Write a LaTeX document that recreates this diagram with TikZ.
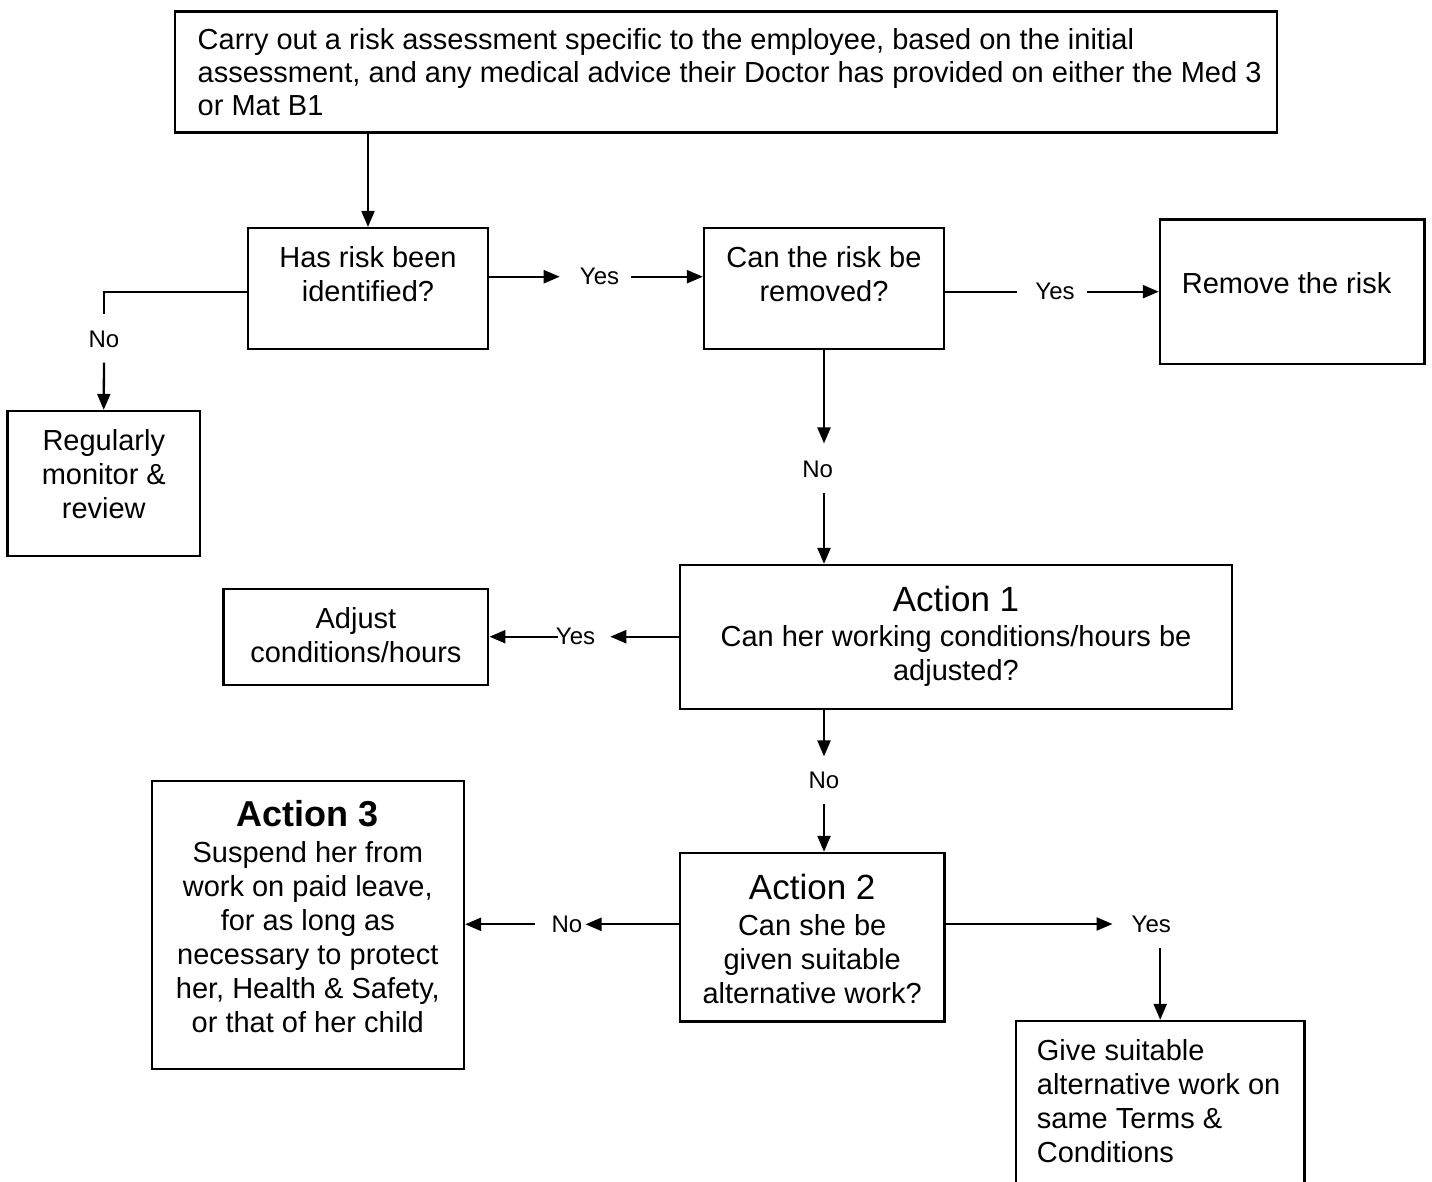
\documentclass[tikz,border=0pt]{standalone}
\usepackage{fontspec}
\setmainfont{Liberation Sans}
\usetikzlibrary{arrows.meta}
\newcommand\fbody{\fontsize{29}{34}\selectfont}
\newcommand\ftopbody{\fontsize{29}{33}\selectfont}
\newcommand\flab{\fontsize{24}{28}\selectfont}
\newcommand\ftitle{\fontsize{35}{40}\selectfont}
\newcommand\ftitleb{\fontsize{36}{40}\selectfont\bfseries}
\begin{document}
\begin{tikzpicture}[x=1pt,y=-1pt,
  box/.style={draw, line width=2.3pt, inner sep=0pt},
  txt/.style={inner sep=0pt, align=center, font=\fbody},
  lab/.style={inner sep=0pt, font=\flab},
  ln/.style={line width=2.3pt},
  arr/.style={line width=2.3pt, -{Triangle[length=16pt,width=13pt]}}]
\useasboundingbox (0,0) rectangle (1432,1182);
\fill[white] (0,0) rectangle (1432,1182);

% boxes
\node[box, minimum width=1102pt, minimum height=121pt] (top) at (726,72) {};
\node[box, minimum width=240pt, minimum height=121pt] (b2) at (368,288.6) {};
\node[box, minimum width=240pt, minimum height=121pt] (b3) at (824,288.5) {};
\node[box, minimum width=264.5pt, minimum height=144.5pt] (rem) at (1292.2,291.7) {};
\node[box, minimum width=192.5pt, minimum height=145pt] (reg) at (103.7,483.5) {};
\node[box, minimum width=264.8pt, minimum height=96pt] (adj) at (355.9,637) {};
\node[box, minimum width=552pt, minimum height=144pt] (a1) at (956,637) {};
\node[box, minimum width=264.5pt, minimum height=168.5pt] (a2) at (812.2,937.2) {};
\node[box, minimum width=312.3pt, minimum height=288pt] (a3) at (307.8,925) {};
\node[box, minimum width=288.3pt, minimum height=176pt] (give) at (1160.2,1109) {};

% texts
\node[txt, align=left, anchor=north west, font=\ftopbody] (ttop) at (197.5,28.6)
  {Carry out a risk assessment specific to the employee, based on the initial\\
   assessment, and any medical advice their Doctor has provided on either the Med 3\\
   or Mat B1};
\node[txt, anchor=north] (tb2) at (368,246.3) {Has risk been\\identified?};
\node[txt, anchor=north] (tb3) at (824,246.3) {Can the risk be\\removed?};
\node[txt, anchor=north] (trem) at (1286.6,272.6) {Remove the risk};
\node[txt, anchor=north] (treg) at (103.8,429.6) {Regularly\\monitor \&\\review};
\node[txt, anchor=north] (tadj) at (355.9,607.6) {Adjust\\conditions/hours};
\node[txt, anchor=north, font=\ftitle] (ta1h) at (956,585.5) {Action 1};
\node[txt, anchor=north] (ta1) at (956,625.6) {Can her working conditions/hours be\\adjusted?};
\node[txt, anchor=north, font=\ftitle] (ta2h) at (812.2,873.5) {Action 2};
\node[txt, anchor=north] (ta2) at (812.2,913.9) {Can she be\\given suitable\\alternative work?};
\node[txt, anchor=north, font=\ftitleb] (ta3h) at (307.8,800) {Action 3};
\node[txt, anchor=north] (ta3) at (307.8,841.3)
  {Suspend her from\\work on paid leave,\\for as long as\\necessary to protect\\her, Health \& Safety,\\or that of her child};
\node[txt, align=left, anchor=north west] (tgive) at (1036.7,1038.9)
  {Give suitable\\alternative work on\\same Terms \&\\Conditions};

% labels
\node[lab] (yes1) at (599.5,276.7) {Yes};
\node[lab] (yes2) at (1055,291.7) {Yes};
\node[lab] (no1) at (104,339) {No};
\node[lab] (no2) at (817.6,469) {No};
\node[lab] (yes3) at (575.5,636.7) {Yes};
\node[lab] (no3) at (824,780) {No};
\node[lab] (no4) at (567,924.3) {No};
\node[lab] (yes4) at (1151.3,924) {Yes};

% helper coordinates
\coordinate (c1) at (104,291.7);
\coordinate (n1t) at ([yshift=16pt]no1.north);
\coordinate (n2t) at ([yshift=17pt]no2.north);
\coordinate (n2b) at ([yshift=-15pt]no2.south);
\coordinate (n3t) at ([yshift=15pt]no3.north);
\coordinate (n3b) at ([yshift=-15pt]no3.south);
\coordinate (y4b) at ([yshift=-15.7pt]yes4.south);

% connectors
\draw[arr] (b2.north |- top.south) -- (b2.north);
\draw[arr] (b2.east |- yes1) -- ([xshift=-20pt]yes1.west);
\draw[arr] ([xshift=11.5pt]yes1.east) -- (b3.west |- yes1);
\draw[ln] (b3.east |- yes2) -- ([xshift=-18pt]yes2.west);
\draw[arr] ([xshift=12pt]yes2.east) -- (rem.west |- yes2);
\draw[ln] (b2.west |- c1) -- (c1) -- (c1 |- n1t);
\draw[arr] ([yshift=-15pt]no1.south) -- (reg.north);
\draw[arr] (b3.south) -- (b3.south |- n2t);
\draw[arr] (b3.south |- n2b) -- (b3.south |- a1.north);
\draw[arr] (a1.west |- yes3) -- ([xshift=15pt]yes3.east);
\draw[arr] ([xshift=2pt]yes3.west) -- (adj.east |- yes3);
\draw[arr] (b3.south |- a1.south) -- (b3.south |- n3t);
\draw[arr] (b3.south |- n3b) -- (b3.south |- a2.north);
\draw[arr] (a2.west |- no4) -- ([xshift=3pt]no4.east);
\draw[arr] ([xshift=-16.6pt]no4.west) -- (a3.east |- no4);
\draw[arr] (a2.east |- yes4) -- ([xshift=-19pt]yes4.west);
\draw[arr] (give.north |- y4b) -- (give.north);
\end{tikzpicture}
\end{document}
